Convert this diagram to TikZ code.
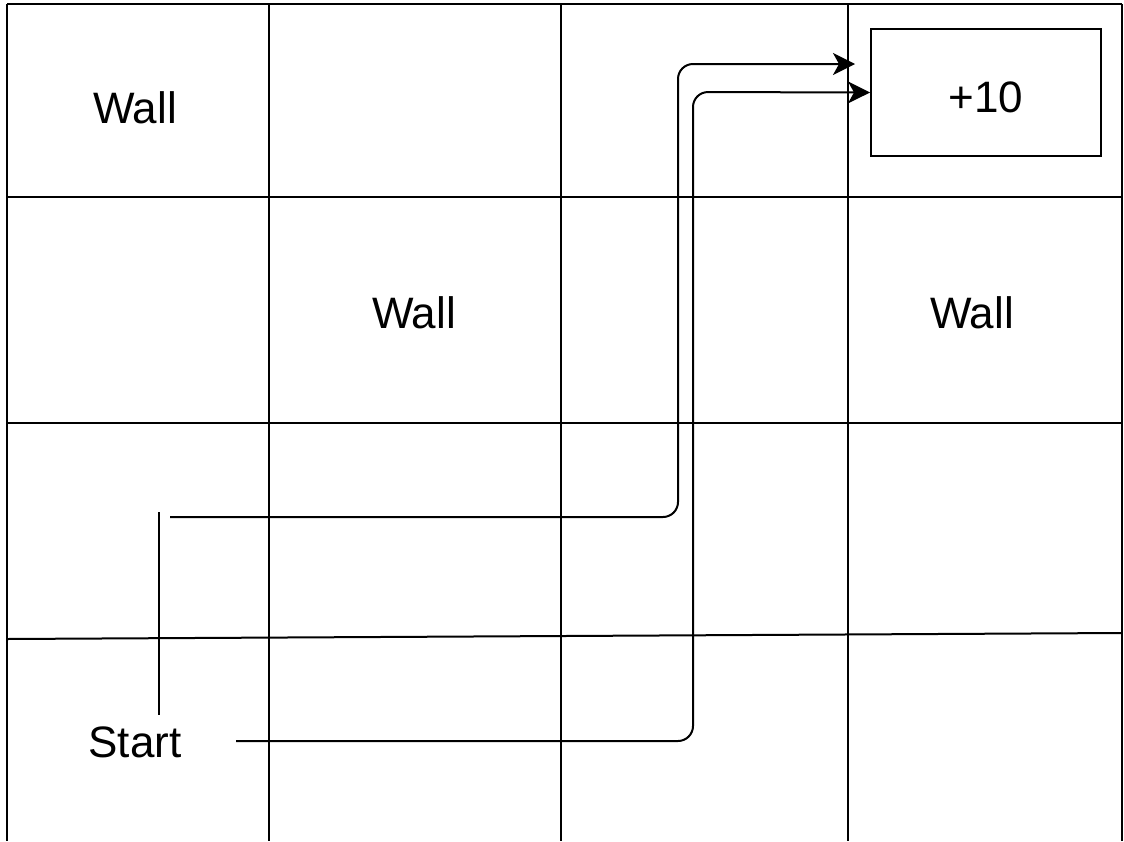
\documentclass[tikz,border=0pt]{standalone}
\usepackage{fontspec}
\setmainfont{Liberation Sans}
\usetikzlibrary{arrows.meta}
\begin{document}
\begin{tikzpicture}[x=0.5pt,y=-0.5pt,
  gridline/.style={line width=1pt, black},
  lbl/.style={font=\fontsize{22}{26}\selectfont, inner sep=0pt},
  route/.style={line width=1pt, rounded corners=7.5pt, -{Stealth[length=11pt,width=11pt,inset=3pt]}},
  goalbox/.style={draw, line width=1pt, minimum width=115pt, minimum height=63.5pt, inner sep=0pt}]
\useasboundingbox (0,0) rectangle (1124,841);
% grid
\draw[gridline] (7,4) -- (1122,4);
\draw[gridline] (7,197) -- (1122,197);
\draw[gridline] (7,423) -- (1122,423);
\draw[gridline] (7,639) -- (1122,633);
\draw[gridline] (7,4) -- (7,841);
\draw[gridline] (269,4) -- (269,841);
\draw[gridline] (561,4) -- (561,841);
\draw[gridline] (848,4) -- (848,841);
\draw[gridline] (1122,4) -- (1122,841);
% labels
\node[lbl] (w1) at (135,108) {Wall};
\node[lbl] (w2) at (414,313) {Wall};
\node[lbl] (w3) at (972,313) {Wall};
\node[lbl] (start) at (135,742) {Start};
\node[goalbox, font=\fontsize{22}{26}\selectfont] (goal) at (986,92.5) {\raisebox{-10pt}[0pt][0pt]{+10}};
% marker line
\coordinate (m1) at (159,512);
\coordinate (m2) at (159,715);
\draw[gridline] (m1) -- (m2);
% routes
\coordinate (s1) at (170,517);
\coordinate (e1) at (855,64);
\coordinate (s2) at (236,741);
\draw[route] (s1) -- (678,517) -- (678,64) -- (e1);
\draw[route] (s2) -- (693,741) -- (693,92) -- (goal.west);
\end{tikzpicture}
\end{document}
